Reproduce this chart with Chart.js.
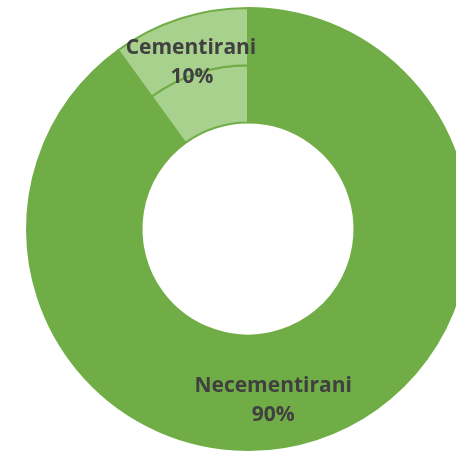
<!DOCTYPE html>
<html>
<head>
<meta charset="utf-8">
<script src="https://cdn.jsdelivr.net/npm/chart.js@4"></script>
<style>
  html, body { margin: 0; padding: 0; background: #fff; overflow: hidden; }
  #wrap { position: absolute; left: 0; top: 0; width: 496px; height: 458px; }
</style>
</head>
<body>
<div id="wrap"><canvas id="donut"></canvas></div>
<script>
const categories = ['Necementirani', 'Cementirani'];
const shares = [90, 10];
const sliceColors = ['#70ad47', '#a9d18e'];

// draws the "name / percent" labels near each slice of the outer ring
const sliceLabels = {
  id: 'sliceLabels',
  afterDatasetsDraw(chart, args, opts) {
    const ctx = chart.ctx;
    const meta = chart.getDatasetMeta(0);
    ctx.save();
    ctx.font = 'bold 21px "Open Sans", Lato, sans-serif';
    ctx.fillStyle = '#404040';
    ctx.textAlign = 'center';
    ctx.textBaseline = 'middle';
    meta.data.forEach((arc, i) => {
      const mid = (arc.startAngle + arc.endAngle) / 2;
      const r = opts.radius[i];
      const x = arc.x + Math.cos(mid) * r;
      const y = arc.y + Math.sin(mid) * r;
      const off = opts.offsets[i];
      ctx.fillText(categories[i], x + off[0], y - 14 + off[1]);
      ctx.fillText(shares[i] + '%', x + off[2], y + 15 + off[1]);
    });
    ctx.restore();
  }
};

new Chart(document.getElementById('donut'), {
  type: 'doughnut',
  data: {
    labels: categories,
    datasets: [
      { data: shares, backgroundColor: sliceColors, borderColor: '#70ad47', borderWidth: 2 },
      { data: shares, backgroundColor: sliceColors, borderColor: '#70ad47', borderWidth: 2 }
    ]
  },
  options: {
    responsive: true,
    maintainAspectRatio: false,
    animation: false,
    cutout: '48.2%',
    layout: { padding: { top: 7, bottom: 7, left: 26, right: 26 } },
    plugins: {
      legend: { display: false },
      tooltip: { enabled: false },
      sliceLabels: { radius: [172, 178], offsets: [[-28, 7, -28], [-2, 2, -1]] }
    }
  },
  plugins: [sliceLabels]
});
</script>
</body>
</html>
